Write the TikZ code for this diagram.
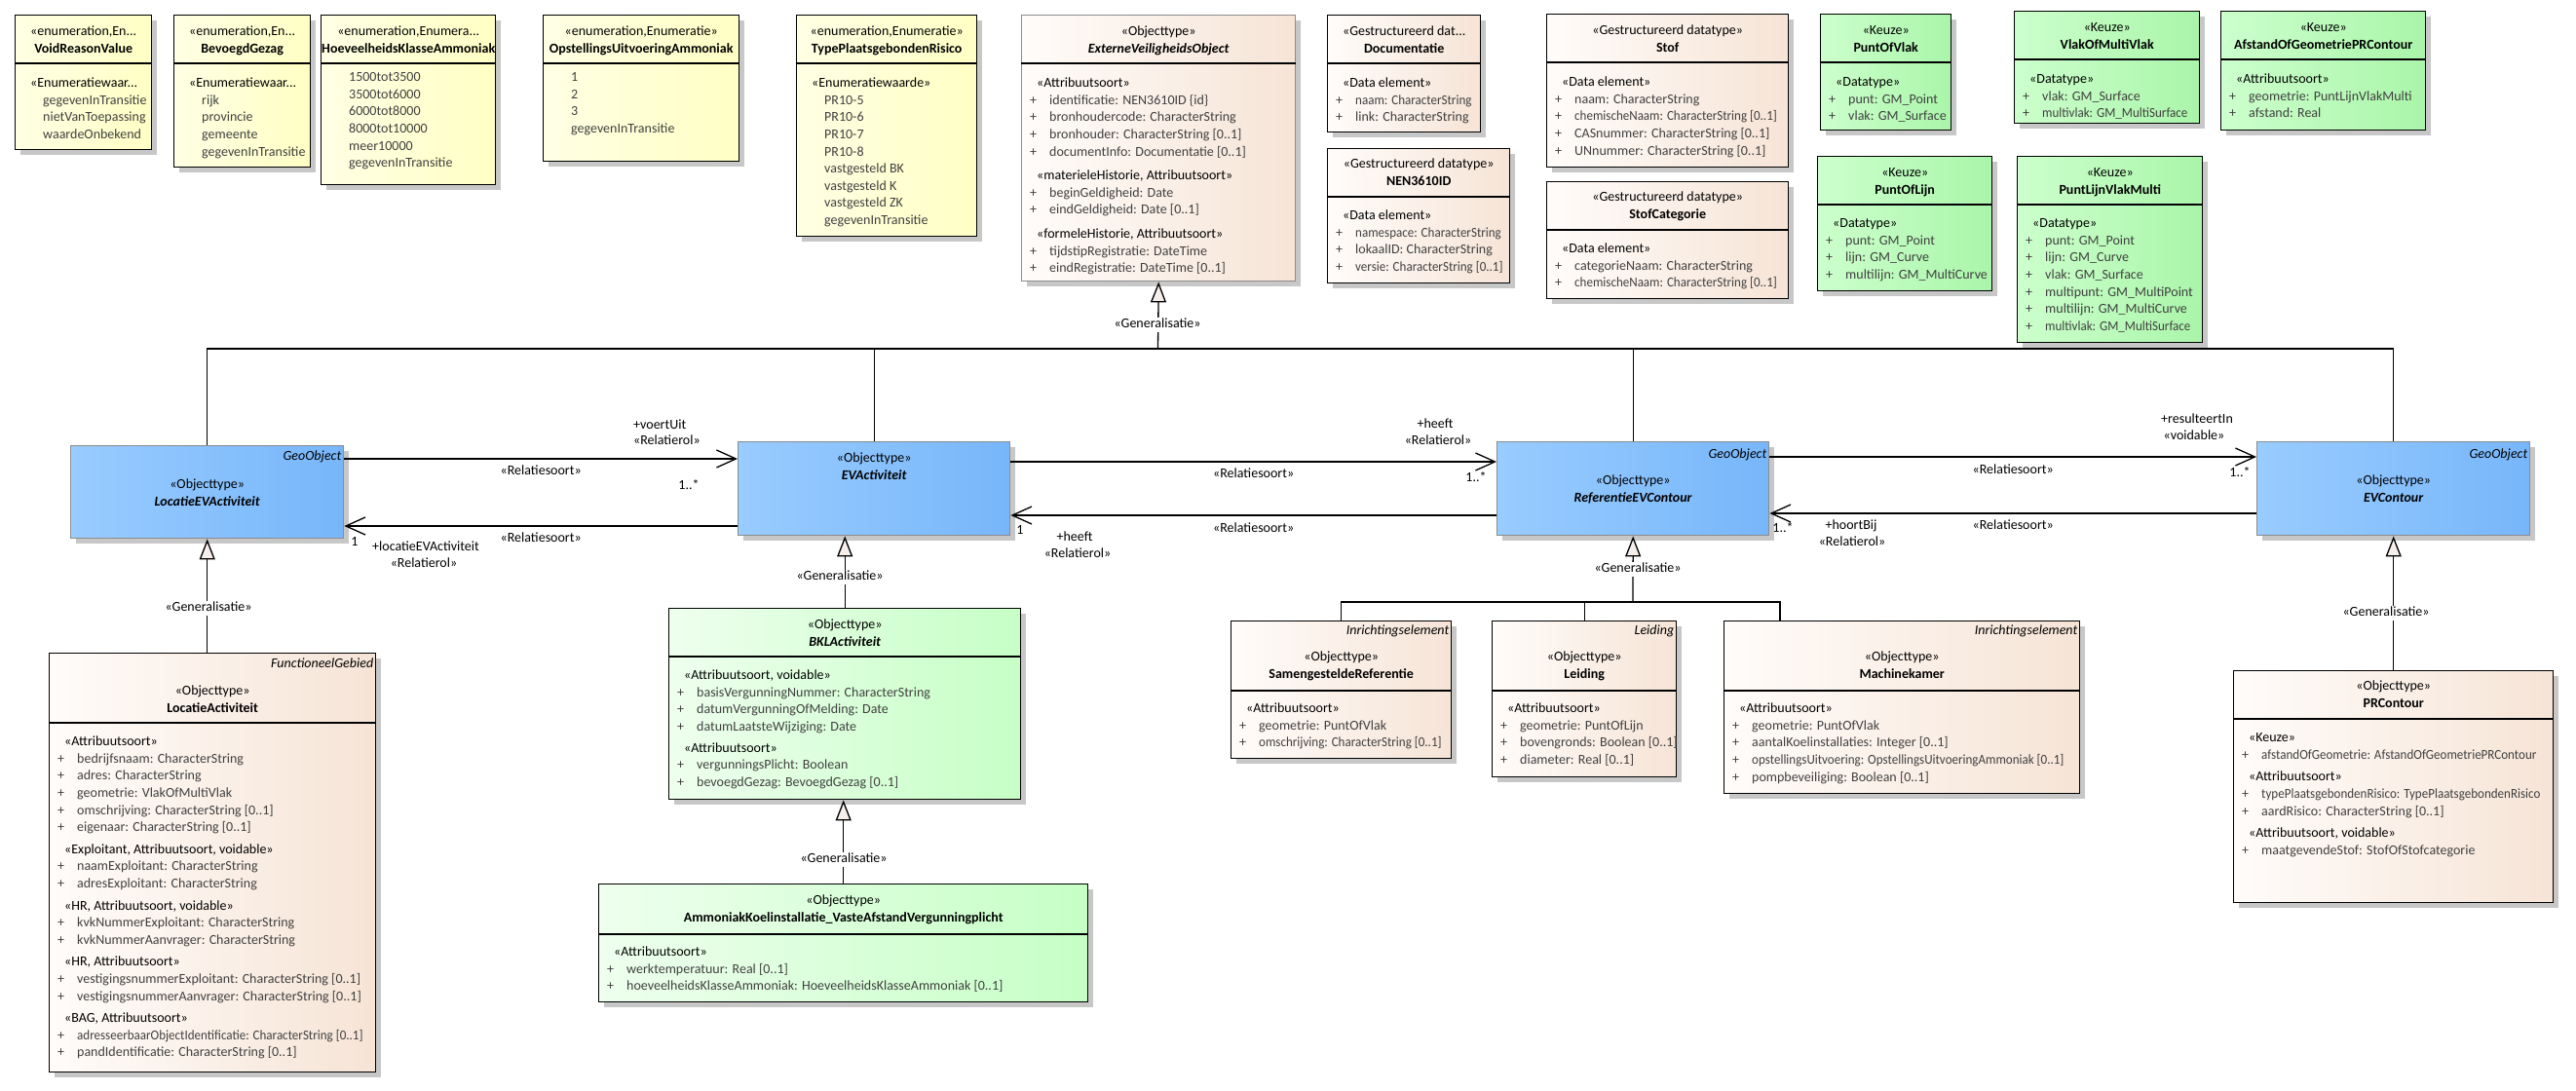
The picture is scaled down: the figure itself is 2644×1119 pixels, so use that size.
\documentclass[tikz,border=0pt]{standalone}
\usepackage{fontspec}
\usepackage{graphicx}
\setmainfont{Carlito}
\usetikzlibrary{arrows.meta,shadows}
\definecolor{enumleft}{RGB}{255,255,228}
\definecolor{enumright}{RGB}{255,255,196}
\definecolor{objleft}{RGB}{255,252,250}
\definecolor{objright}{RGB}{246,228,214}
\definecolor{keuzeleft}{RGB}{204,255,204}
\definecolor{keuzeright}{RGB}{170,245,170}
\definecolor{bklleft}{RGB}{238,255,238}
\definecolor{bklright}{RGB}{198,255,198}
\definecolor{geoleft}{RGB}{153,204,255}
\definecolor{georight}{RGB}{119,182,250}
\definecolor{attrtext}{RGB}{64,64,64}
\definecolor{trifill}{RGB}{245,238,234}
\newcommand\umlhd[2]{\strut#1\\\strut\textbf{#2}}
\newcommand\umlst[1]{\strut\hspace*{7pt}#1}
\newcommand\umlat[1]{\strut{\color{attrtext}\makebox[20pt][l]{+}#1}}
\newcommand\umlsq[1]{\strut{\color{attrtext}\makebox[20pt][l]{+}\scalebox{0.93}[1]{#1}}}
\newcommand\umlval[1]{\strut\hspace*{20pt}{\color{attrtext}#1}}

\begin{document}
\begin{tikzpicture}[x=1pt,y=-1pt,
  box/.style={anchor=north west,inner sep=0,draw=black,line width=1.4pt,
    general shadow={shadow xshift=5pt,shadow yshift=-5pt,fill=black!22}},
  enum/.style={box,left color=enumleft,right color=enumright},
  obj/.style={box,left color=objleft,right color=objright},
  keuze/.style={box,left color=keuzeleft,right color=keuzeright},
  bkl/.style={box,left color=bklleft,right color=bklright},
  geo/.style={box,draw=black!45,left color=geoleft,right color=georight},
  div/.style={line width=1.4pt},
  hdr/.style={anchor=north,inner sep=0,yshift=7.8pt,align=center,font=\fontsize{14}{17.5}\selectfont},
  cmp/.style={anchor=north west,inner sep=0,yshift=7.8pt,align=left,font=\fontsize{14}{17.6}\selectfont},
  lbl/.style={inner sep=0,text height=10pt,text depth=3pt,font=\fontsize{14}{17}\selectfont},
  tag/.style={lbl,anchor=east,font=\fontsize{14}{17}\selectfont\itshape},
  glbl/.style={lbl,fill=white,inner xsep=2pt,inner ysep=1pt},
  conn/.style={line width=1.3pt},
  assoc/.style={conn,-{Straight Barb[length=20pt,width=18pt]}},
  gen/.style={conn,-{Triangle[length=21pt,width=16pt,fill=trifill]}}]
\useasboundingbox (0,0) rectangle (2644,1119);

\node[enum,minimum width=140pt,minimum height=138pt] (VRV) at (15,15) {};
\node[enum,minimum width=140pt,minimum height=156pt] (BG) at (178,15) {};
\node[enum,minimum width=179pt,minimum height=174pt] (HKA) at (329,15) {};
\node[enum,minimum width=201pt,minimum height=150pt] (OUA) at (557,15) {};
\node[enum,minimum width=185pt,minimum height=227pt] (TPR) at (817,15) {};
\node[obj,draw=black!45,minimum width=281pt,minimum height=273pt] (EVO) at (1048,15) {};
\node[obj,minimum width=157pt,minimum height=120pt] (DOC) at (1362,15) {};
\node[obj,minimum width=187pt,minimum height=138pt] (NEN) at (1362,152) {};
\node[obj,minimum width=248pt,minimum height=157pt] (STOF) at (1587,14) {};
\node[obj,minimum width=248pt,minimum height=120pt] (STC) at (1587,186) {};
\node[keuze,minimum width=134pt,minimum height=119pt] (POV) at (1868,14) {};
\node[keuze,minimum width=179pt,minimum height=138pt] (POL) at (1865,160) {};
\node[keuze,minimum width=190pt,minimum height=115pt] (VMV) at (2067,11) {};
\node[keuze,minimum width=210pt,minimum height=122pt] (AGP) at (2279,11) {};
\node[keuze,minimum width=190pt,minimum height=191pt] (PLVM) at (2070,160) {};
\node[geo,minimum width=280pt,minimum height=95pt] (LEV) at (72,457) {};
\node[geo,minimum width=279pt,minimum height=96pt] (EVA) at (757,453) {};
\node[geo,minimum width=279pt,minimum height=96pt] (REC) at (1536,453) {};
\node[geo,minimum width=280pt,minimum height=96pt] (EVC) at (2316,453) {};
\node[obj,minimum width=335pt,minimum height=430pt] (LAC) at (50,670) {};
\node[bkl,minimum width=361pt,minimum height=196pt] (BKL) at (686,624) {};
\node[bkl,minimum width=502pt,minimum height=121pt] (AKI) at (614,907) {};
\node[obj,minimum width=226pt,minimum height=141pt] (SR) at (1263,637) {};
\node[obj,minimum width=189pt,minimum height=160pt] (LEI) at (1531,637) {};
\node[obj,minimum width=365pt,minimum height=177pt] (MKA) at (1769,637) {};
\node[obj,minimum width=328pt,minimum height=238pt] (PRC) at (2292,688) {};

\foreach \b in {VRV,BG,HKA,OUA,TPR,EVO,DOC,NEN,STOF,STC,POV,POL,VMV,AGP,PLVM,BKL,PRC}
  \draw[div] ([yshift=-50pt]\b.north west) -- ([yshift=-50pt]\b.north east);
\foreach \b in {LAC,SR,LEI,MKA}
  \draw[div] ([yshift=-72pt]\b.north west) -- ([yshift=-72pt]\b.north east);
\draw[div] ([yshift=-52pt]AKI.north west) -- ([yshift=-52pt]AKI.north east);

\node[hdr] (VRV-h) at ([yshift=-17pt]VRV.north) {\umlhd{«enumeration,En...}{VoidReasonValue}};
\node[hdr] (BG-h) at ([yshift=-17pt]BG.north) {\umlhd{«enumeration,En...}{BevoegdGezag}};
\node[hdr] (HKA-h) at ([yshift=-17pt]HKA.north) {\umlhd{«enumeration,Enumera...}{HoeveelheidsKlasseAmmoniak}};
\node[hdr] (OUA-h) at ([yshift=-17pt]OUA.north) {\umlhd{«enumeration,Enumeratie»}{OpstellingsUitvoeringAmmoniak}};
\node[hdr] (TPR-h) at ([yshift=-17pt]TPR.north) {\umlhd{«enumeration,Enumeratie»}{TypePlaatsgebondenRisico}};
\node[hdr] (EVO-h) at ([yshift=-17pt]EVO.north) {\umlhd{«Objecttype»}{\textit{ExterneVeiligheidsObject}}};
\node[hdr] (DOC-h) at ([yshift=-17pt]DOC.north) {\umlhd{«Gestructureerd dat...}{Documentatie}};
\node[hdr] (NEN-h) at ([yshift=-16pt]NEN.north) {\umlhd{«Gestructureerd datatype»}{NEN3610ID}};
\node[hdr] (STOF-h) at ([yshift=-17pt]STOF.north) {\umlhd{«Gestructureerd datatype»}{Stof}};
\node[hdr] (STC-h) at ([yshift=-16pt]STC.north) {\umlhd{«Gestructureerd datatype»}{StofCategorie}};
\node[hdr] (POV-h) at ([yshift=-17pt]POV.north) {\umlhd{«Keuze»}{PuntOfVlak}};
\node[hdr] (POL-h) at ([yshift=-17pt]POL.north) {\umlhd{«Keuze»}{PuntOfLijn}};
\node[hdr] (VMV-h) at ([yshift=-17pt]VMV.north) {\umlhd{«Keuze»}{VlakOfMultiVlak}};
\node[hdr] (AGP-h) at ([yshift=-17pt]AGP.north) {\umlhd{«Keuze»}{AfstandOfGeometriePRContour}};
\node[hdr] (PLVM-h) at ([yshift=-17pt]PLVM.north) {\umlhd{«Keuze»}{PuntLijnVlakMulti}};
\node[hdr] (LEV-h) at ([yshift=-40pt]LEV.north) {\umlhd{«Objecttype»}{\textit{LocatieEVActiviteit}}};
\node[hdr] (EVA-h) at ([yshift=-17pt]EVA.north) {\umlhd{«Objecttype»}{\textit{EVActiviteit}}};
\node[hdr] (REC-h) at ([yshift=-40pt]REC.north) {\umlhd{«Objecttype»}{\textit{ReferentieEVContour}}};
\node[hdr] (EVC-h) at ([yshift=-40pt]EVC.north) {\umlhd{«Objecttype»}{\textit{EVContour}}};
\node[hdr] (LAC-h) at ([yshift=-39pt]LAC.north) {\umlhd{«Objecttype»}{LocatieActiviteit}};
\node[hdr] (BKL-h) at ([yshift=-17pt]BKL.north) {\umlhd{«Objecttype»}{\textit{BKLActiviteit}}};
\node[hdr] (AKI-h) at ([yshift=-17pt]AKI.north) {\umlhd{«Objecttype»}{AmmoniakKoelinstallatie\_VasteAfstandVergunningplicht}};
\node[hdr] (SR-h) at ([yshift=-37pt]SR.north) {\umlhd{«Objecttype»}{SamengesteldeReferentie}};
\node[hdr] (LEI-h) at ([yshift=-37pt]LEI.north) {\umlhd{«Objecttype»}{Leiding}};
\node[hdr] (MKA-h) at ([yshift=-37pt]MKA.north) {\umlhd{«Objecttype»}{Machinekamer}};
\node[hdr] (PRC-h) at ([yshift=-16pt]PRC.north) {\umlhd{«Objecttype»}{PRContour}};

\node[tag] (LEV-t) at ([xshift=-3pt,yshift=-12pt]LEV.north east) {GeoObject};
\node[tag] (REC-t) at ([xshift=-3pt,yshift=-14pt]REC.north east) {GeoObject};
\node[tag] (EVC-t) at ([xshift=-3pt,yshift=-14pt]EVC.north east) {GeoObject};
\node[tag] (LAC-t) at ([xshift=-3pt,yshift=-12pt]LAC.north east) {FunctioneelGebied};
\node[tag] (SR-t) at ([xshift=-3pt,yshift=-11pt]SR.north east) {Inrichtingselement};
\node[tag] (LEI-t) at ([xshift=-3pt,yshift=-11pt]LEI.north east) {Leiding};
\node[tag] (MKA-t) at ([xshift=-3pt,yshift=-11pt]MKA.north east) {Inrichtingselement};

\node[cmp] (VRV-c) at ([xshift=9pt,yshift=-70pt]VRV.north west) {\umlst{«Enumeratiewaar...}\\\umlval{gegevenInTransitie}\\\umlval{nietVanToepassing}\\\umlval{waardeOnbekend}};
\node[cmp] (BG-c) at ([xshift=9pt,yshift=-70pt]BG.north west) {\umlst{«Enumeratiewaar...}\\\umlval{rijk}\\\umlval{provincie}\\\umlval{gemeente}\\\umlval{gegevenInTransitie}};
\node[cmp] (HKA-c) at ([xshift=9pt,yshift=-64pt]HKA.north west) {\umlval{1500tot3500}\\\umlval{3500tot6000}\\\umlval{6000tot8000}\\\umlval{8000tot10000}\\\umlval{meer10000}\\\umlval{gegevenInTransitie}};
\node[cmp] (OUA-c) at ([xshift=9pt,yshift=-64pt]OUA.north west) {\umlval{1}\\\umlval{2}\\\umlval{3}\\\umlval{gegevenInTransitie}};
\node[cmp] (TPR-c) at ([xshift=9pt,yshift=-70pt]TPR.north west) {\umlst{«Enumeratiewaarde»}\\\umlval{PR10-5}\\\umlval{PR10-6}\\\umlval{PR10-7}\\\umlval{PR10-8}\\\umlval{vastgesteld BK}\\\umlval{vastgesteld K}\\\umlval{vastgesteld ZK}\\\umlval{gegevenInTransitie}};
\node[cmp] (EVO-c) at ([xshift=9pt,yshift=-70pt]EVO.north west) {\umlst{«Attribuutsoort»}\\\umlat{identificatie: NEN3610ID \{id\}}\\\umlat{bronhoudercode: CharacterString}\\\umlat{bronhouder: CharacterString [0..1]}\\\umlat{documentInfo: Documentatie [0..1]}\\[7pt]
  \umlst{«materieleHistorie, Attribuutsoort»}\\\umlat{beginGeldigheid: Date}\\\umlat{eindGeldigheid: Date [0..1]}\\[7pt]
  \umlst{«formeleHistorie, Attribuutsoort»}\\\umlat{tijdstipRegistratie: DateTime}\\\umlat{eindRegistratie: DateTime [0..1]}};
\node[cmp] (DOC-c) at ([xshift=9pt,yshift=-70pt]DOC.north west) {\umlst{«Data element»}\\\umlsq{naam: CharacterString}\\\umlat{link: CharacterString}};
\node[cmp] (NEN-c) at ([xshift=9pt,yshift=-69pt]NEN.north west) {\umlst{«Data element»}\\\umlsq{namespace: CharacterString}\\\umlat{lokaalID: CharacterString}\\\umlsq{versie: CharacterString [0..1]}};
\node[cmp] (STOF-c) at ([xshift=9pt,yshift=-70pt]STOF.north west) {\umlst{«Data element»}\\\umlat{naam: CharacterString}\\\umlsq{chemischeNaam: CharacterString [0..1]}\\\umlat{CASnummer: CharacterString [0..1]}\\\umlat{UNnummer: CharacterString [0..1]}};
\node[cmp] (STC-c) at ([xshift=9pt,yshift=-69pt]STC.north west) {\umlst{«Data element»}\\\umlat{categorieNaam: CharacterString}\\\umlsq{chemischeNaam: CharacterString [0..1]}};
\node[cmp] (POV-c) at ([xshift=9pt,yshift=-70pt]POV.north west) {\umlst{«Datatype»}\\\umlat{punt: GM\_Point}\\\umlat{vlak: GM\_Surface}};
\node[cmp] (POL-c) at ([xshift=9pt,yshift=-69pt]POL.north west) {\umlst{«Datatype»}\\\umlat{punt: GM\_Point}\\\umlat{lijn: GM\_Curve}\\\umlat{multilijn: GM\_MultiCurve}};
\node[cmp] (VMV-c) at ([xshift=9pt,yshift=-70pt]VMV.north west) {\umlst{«Datatype»}\\\umlat{vlak: GM\_Surface}\\\umlsq{multivlak: GM\_MultiSurface}};
\node[cmp] (AGP-c) at ([xshift=9pt,yshift=-70pt]AGP.north west) {\umlst{«Attribuutsoort»}\\\umlat{geometrie: PuntLijnVlakMulti}\\\umlat{afstand: Real}};
\node[cmp] (PLVM-c) at ([xshift=9pt,yshift=-69pt]PLVM.north west) {\umlst{«Datatype»}\\\umlat{punt: GM\_Point}\\\umlat{lijn: GM\_Curve}\\\umlat{vlak: GM\_Surface}\\\umlat{multipunt: GM\_MultiPoint}\\\umlat{multilijn: GM\_MultiCurve}\\\umlsq{multivlak: GM\_MultiSurface}};
\node[cmp] (LAC-c) at ([xshift=9pt,yshift=-91pt]LAC.north west) {\umlst{«Attribuutsoort»}\\\umlat{bedrijfsnaam: CharacterString}\\\umlat{adres: CharacterString}\\\umlat{geometrie: VlakOfMultiVlak}\\\umlat{omschrijving: CharacterString [0..1]}\\\umlat{eigenaar: CharacterString [0..1]}\\[5pt]
  \umlst{«Exploitant, Attribuutsoort, voidable»}\\\umlat{naamExploitant: CharacterString}\\\umlat{adresExploitant: CharacterString}\\[5pt]
  \umlst{«HR, Attribuutsoort, voidable»}\\\umlat{kvkNummerExploitant: CharacterString}\\\umlat{kvkNummerAanvrager: CharacterString}\\[5pt]
  \umlst{«HR, Attribuutsoort»}\\\umlat{vestigingsnummerExploitant: CharacterString [0..1]}\\\umlat{vestigingsnummerAanvrager: CharacterString [0..1]}\\[5pt]
  \umlst{«BAG, Attribuutsoort»}\\\umlsq{adresseerbaarObjectIdentificatie: CharacterString [0..1]}\\\umlat{pandIdentificatie: CharacterString [0..1]}};
\node[cmp] (BKL-c) at ([xshift=9pt,yshift=-69pt]BKL.north west) {\umlst{«Attribuutsoort, voidable»}\\\umlat{basisVergunningNummer: CharacterString}\\\umlat{datumVergunningOfMelding: Date}\\\umlat{datumLaatsteWijziging: Date}\\[4pt]
  \umlst{«Attribuutsoort»}\\\umlat{vergunningsPlicht: Boolean}\\\umlat{bevoegdGezag: BevoegdGezag [0..1]}};
\node[cmp] (AKI-c) at ([xshift=9pt,yshift=-70pt]AKI.north west) {\umlst{«Attribuutsoort»}\\\umlat{werktemperatuur: Real [0..1]}\\\umlat{hoeveelheidsKlasseAmmoniak: HoeveelheidsKlasseAmmoniak [0..1]}};
\node[cmp] (SR-c) at ([xshift=9pt,yshift=-90pt]SR.north west) {\umlst{«Attribuutsoort»}\\\umlat{geometrie: PuntOfVlak}\\\umlsq{omschrijving: CharacterString [0..1]}};
\node[cmp] (LEI-c) at ([xshift=9pt,yshift=-90pt]LEI.north west) {\umlst{«Attribuutsoort»}\\\umlat{geometrie: PuntOfLijn}\\\umlat{bovengronds: Boolean [0..1]}\\\umlat{diameter: Real [0..1]}};
\node[cmp] (MKA-c) at ([xshift=9pt,yshift=-90pt]MKA.north west) {\umlst{«Attribuutsoort»}\\\umlat{geometrie: PuntOfVlak}\\\umlat{aantalKoelinstallaties: Integer [0..1]}\\\umlsq{opstellingsUitvoering: OpstellingsUitvoeringAmmoniak [0..1]}\\\umlat{pompbeveiliging: Boolean [0..1]}};
\node[cmp] (PRC-c) at ([xshift=9pt,yshift=-69pt]PRC.north west) {\umlst{«Keuze»}\\\umlsq{afstandOfGeometrie: AfstandOfGeometriePRContour}\\[5pt]
  \umlst{«Attribuutsoort»}\\\umlsq{typePlaatsgebondenRisico: TypePlaatsgebondenRisico}\\\umlat{aardRisico: CharacterString [0..1]}\\[5pt]
  \umlst{«Attribuutsoort, voidable»}\\\umlat{maatgevendeStof: StofOfStofcategorie}};

\coordinate (bus) at (1188.5,358);
\coordinate (tree) at (1676,618);
\draw[conn] (LEV.north) |- (bus) -| (EVC.north);
\draw[conn] (EVA.north) -- (EVA.north |- bus);
\draw[conn] (REC.north) -- (REC.north |- bus);
\draw[gen] (bus) -- (EVO.south);
\node[glbl] (g1) at (1188,333) {«Generalisatie»};
\draw[gen] (LAC.north -| LEV.south) -- (LEV.south);
\node[glbl] (g2) at (214,624) {«Generalisatie»};
\draw[gen] (BKL.north) -- (BKL.north |- EVA.south);
\node[glbl] (g3) at (862,592) {«Generalisatie»};
\draw[gen] (AKI.north) -- (AKI.north |- BKL.south);
\node[glbl] (g4) at (866,882) {«Generalisatie»};
\draw[conn] (SR.north) |- (tree) -| ([xshift=58pt]MKA.north west);
\draw[conn] (LEI.north) -- (LEI.north |- tree);
\draw[gen] (tree) -- (REC.south);
\node[glbl] (g5) at (1681,584) {«Generalisatie»};
\draw[gen] (PRC.north) -- (EVC.south);
\node[glbl] (g6) at (2449,629) {«Generalisatie»};

\draw[assoc] ([yshift=-14pt]LEV.north east) -- node[lbl,yshift=-13pt] (r1) {«Relatiesoort»} ([yshift=-18pt]EVA.north west);
\draw[assoc] ([yshift=-87pt]EVA.north west) -- node[lbl,yshift=-13pt] (r2) {«Relatiesoort»} ([yshift=-83pt]LEV.north east);
\draw[assoc] ([yshift=-21pt]EVA.north east) -- node[lbl,yshift=-13pt] (r3) {«Relatiesoort»} ([yshift=-21pt]REC.north west);
\draw[assoc] ([yshift=-76pt]REC.north west) -- node[lbl,yshift=-14pt] (r4) {«Relatiesoort»} ([yshift=-76pt]EVA.north east);
\draw[assoc] ([yshift=-16pt]REC.north east) -- node[lbl,yshift=-14pt] (r5) {«Relatiesoort»} ([yshift=-16pt]EVC.north west);
\draw[assoc] ([yshift=-74pt]EVC.north west) -- node[lbl,yshift=-13pt] (r6) {«Relatiesoort»} ([yshift=-74pt]REC.north east);

\node[lbl,anchor=west] (voertUit) at (650,437) {+voertUit};
\node[lbl,anchor=west] (voertUitR) at (650,453) {«Relatierol»};
\node[lbl] (m1) at (707,499) {1..*};
\node[lbl] (m2) at (364,557) {1};
\node[lbl] (locRol) at (437,562) {+locatieEVActiviteit};
\node[lbl] (locRolR) at (435,579) {«Relatierol»};
\node[lbl] (heeft1) at (1473,436) {+heeft};
\node[lbl] (heeft1R) at (1476,453) {«Relatierol»};
\node[lbl] (m3) at (1515,491) {1..*};
\node[lbl] (m4) at (1047,545) {1};
\node[lbl] (heeft2) at (1103,552) {+heeft};
\node[lbl] (heeft2R) at (1106,569) {«Relatierol»};
\node[lbl] (result) at (2255,431) {+resulteertIn};
\node[lbl] (resultV) at (2252,448) {«voidable»};
\node[lbl] (m5) at (2299,486) {1..*};
\node[lbl] (m6) at (1830,543) {1..*};
\node[lbl] (hoort) at (1900,540) {+hoortBij};
\node[lbl] (hoortR) at (1901,557) {«Relatierol»};
\end{tikzpicture}
\end{document}
